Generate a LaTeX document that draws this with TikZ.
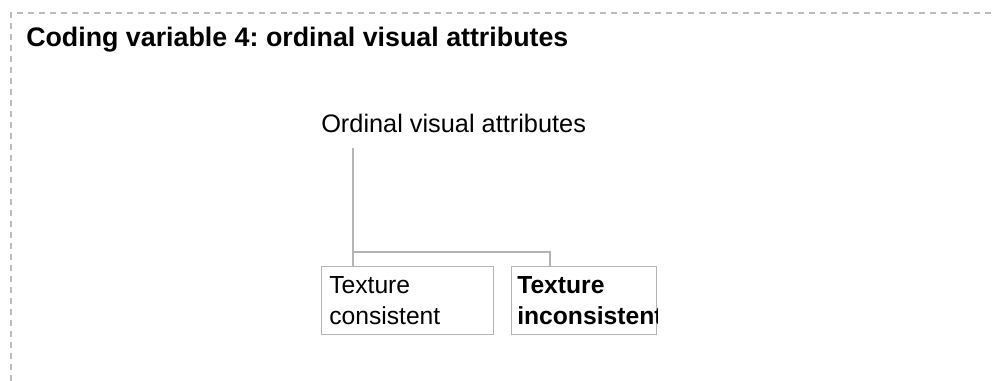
\documentclass[tikz,border=0pt]{standalone}
\usepackage{fontspec}
\setmainfont{Liberation Sans}
\definecolor{linegray}{HTML}{B4B4B4}
\definecolor{dashgray}{HTML}{BDBDBD}
\begin{document}
\frenchspacing
\begin{tikzpicture}[x=0.75pt,y=-0.75pt,
  conn/.style={draw=linegray,line width=0.9pt},
  leafbox/.style={draw=linegray,line width=0.9pt,anchor=north west,minimum width=172*0.75pt,minimum height=68*0.75pt,inner sep=0pt},
  leaftext/.style={anchor=base west,align=left,font=\fontsize{18.5}{23.25}\selectfont,inner sep=0pt}]
\useasboundingbox (0,0) rectangle (992,381);
\draw[dashgray,line width=0.8pt,dash pattern=on 4.5pt off 3.75pt] (11,381) -- (11,13) -- (992,13);
\node[anchor=base west,inner sep=0pt,font=\bfseries\fontsize{20.1}{22}\selectfont] (title) at (26,47) {Coding variable 4: ordinal visual attributes};
\node[anchor=base west,inner sep=0pt,font=\fontsize{19}{22}\selectfont] (root) at (321,133) {Ordinal visual attributes};
\node[leafbox] (b1) at (321,266) {};
\node[leafbox,minimum width=145*0.75pt] (b2) at (511,266) {};
\node[leaftext] (t1) at (329,324) {Texture\\consistent};
\begin{scope}
\clip (b2.south west) rectangle (b2.north east);
\node[leaftext,font=\bfseries\fontsize{18.5}{23.25}\selectfont] (t2) at (517,324) {Texture\\inconsistent};
\end{scope}
\coordinate (top) at (353,148);
\coordinate (j1) at (353,252);
\coordinate (j2) at (550,252);
\draw[conn] (top) -- (top |- b1.north);
\draw[conn] (j1) -- (j2) -- (j2 |- b2.north);
\end{tikzpicture}
\end{document}
